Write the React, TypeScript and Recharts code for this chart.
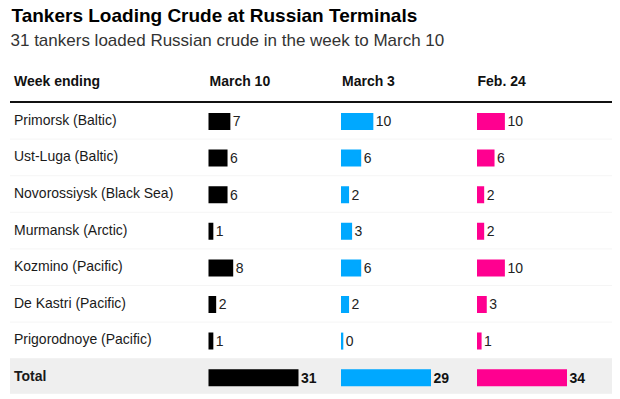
import React from 'react';
import { BarChart, Bar, XAxis, YAxis } from 'recharts';

const terminals = [
  'Primorsk (Baltic)',
  'Ust-Luga (Baltic)',
  'Novorossiysk (Black Sea)',
  'Murmansk (Arctic)',
  'Kozmino (Pacific)',
  'De Kastri (Pacific)',
  'Prigorodnoye (Pacific)',
];
const weeks = ['March 10', 'March 3', 'Feb. 24'];
const march10 = [7, 6, 6, 1, 8, 2, 1];
const march3 = [10, 6, 2, 3, 6, 2, 0];
const feb24 = [10, 6, 2, 2, 10, 3, 1];
const colors = ['#000000', '#00a8ff', '#ff0090'];

const FONT = '"Liberation Sans", Arial, Helvetica, sans-serif';
const TOP = 102.5;
const ROW = 36.6;
const ROWS = terminals.length + 1;

const columns = [march10, march3, feb24].map((vals, i) => {
  const total = vals.reduce((a, b) => a + b, 0);
  const rows = terminals.map((name, j) => ({ name, value: vals[j] }));
  rows.push({ name: 'Total', value: total });
  return { week: weeks[i], color: colors[i], total, rows };
});

// plot left edges of the three bar columns (page px)
const colLeft = [209.5, 342, 477.5];
const BAR_W = 88;

const RowLabel = (props: any) => {
  const { y, payload } = props;
  const isTotal = payload.value === 'Total';
  return (
    <text
      x={4}
      y={y + 3.5}
      fontFamily={FONT}
      fontSize={14}
      fontWeight={isTotal ? 700 : 400}
      fill="#1a1a1a"
    >
      {payload.value}
    </text>
  );
};

const makeValueLabel = (lastIndex: number) => (props: any) => {
  const { x, y, width, height, value, index } = props;
  const bold = index === lastIndex;
  return (
    <text
      x={x + width + 3.5}
      y={y + height / 2 + 5}
      fontFamily={FONT}
      fontSize={14}
      fontWeight={bold ? 700 : 400}
      fill={bold ? '#111' : '#222'}
    >
      {value}
    </text>
  );
};

export default function App() {
  return (
    <div
      style={{
        position: 'absolute',
        left: 0,
        top: 0,
        width: 620,
        height: 399,
        background: '#fff',
        fontFamily: FONT,
      }}
    >
      <svg width={620} height={399} style={{ position: 'absolute', left: 0, top: 0 }}>
        <rect x={10} y={TOP + ROW * 7 - 0.5} width={602} height={ROW - 1} fill="#efefef" />
        {Array.from({ length: ROWS - 2 }, (_, k) => (
          <line
            key={k}
            x1={10}
            x2={612}
            y1={TOP + ROW * (k + 1)}
            y2={TOP + ROW * (k + 1)}
            stroke="#f5f5f5"
            strokeWidth={1}
          />
        ))}
        <text x={11.5} y={22} fontFamily={FONT} fontSize={19} fontWeight={700} fill="#000">
          Tankers Loading Crude at Russian Terminals
        </text>
        <text x={10.5} y={46} fontFamily={FONT} fontSize={17} fill="#333">
          31 tankers loaded Russian crude in the week to March 10
        </text>
        <text x={14} y={86} fontFamily={FONT} fontSize={14} fontWeight={700} fill="#111">
          Week ending
        </text>
        {columns.map((c, i) => (
          <text key={c.week} x={colLeft[i]} y={86} fontFamily={FONT} fontSize={14} fontWeight={700} fill="#111">
            {c.week}
          </text>
        ))}
        <line x1={10} x2={612} y1={102} y2={102} stroke="#111" strokeWidth={2} />
      </svg>

      {columns.map((c, i) => {
        const first = i === 0;
        const left = first ? 10 : colLeft[i] - 4;
        const marginLeft = first ? 0 : 4;
        const yAxisW = first ? colLeft[0] - 10 : 0;
        const width = (first ? yAxisW : marginLeft) + BAR_W + 40;
        return (
          <div key={c.week} style={{ position: 'absolute', left, top: TOP }}>
            <BarChart
              width={width}
              height={ROW * ROWS}
              data={c.rows}
              layout="vertical"
              margin={{ top: 0, right: 40, bottom: 0, left: marginLeft }}
            >
              <XAxis type="number" domain={[0, c.total]} hide />
              <YAxis
                type="category"
                dataKey="name"
                hide={!first}
                width={yAxisW}
                axisLine={false}
                tickLine={false}
                interval={0}
                tick={RowLabel}
              />
              <Bar
                dataKey="value"
                fill={c.color}
                stroke={c.color}
                strokeWidth={2}
                barSize={15}
                minPointSize={0.3}
                isAnimationActive={false}
                label={makeValueLabel(c.rows.length - 1)}
              />
            </BarChart>
          </div>
        );
      })}
    </div>
  );
}
